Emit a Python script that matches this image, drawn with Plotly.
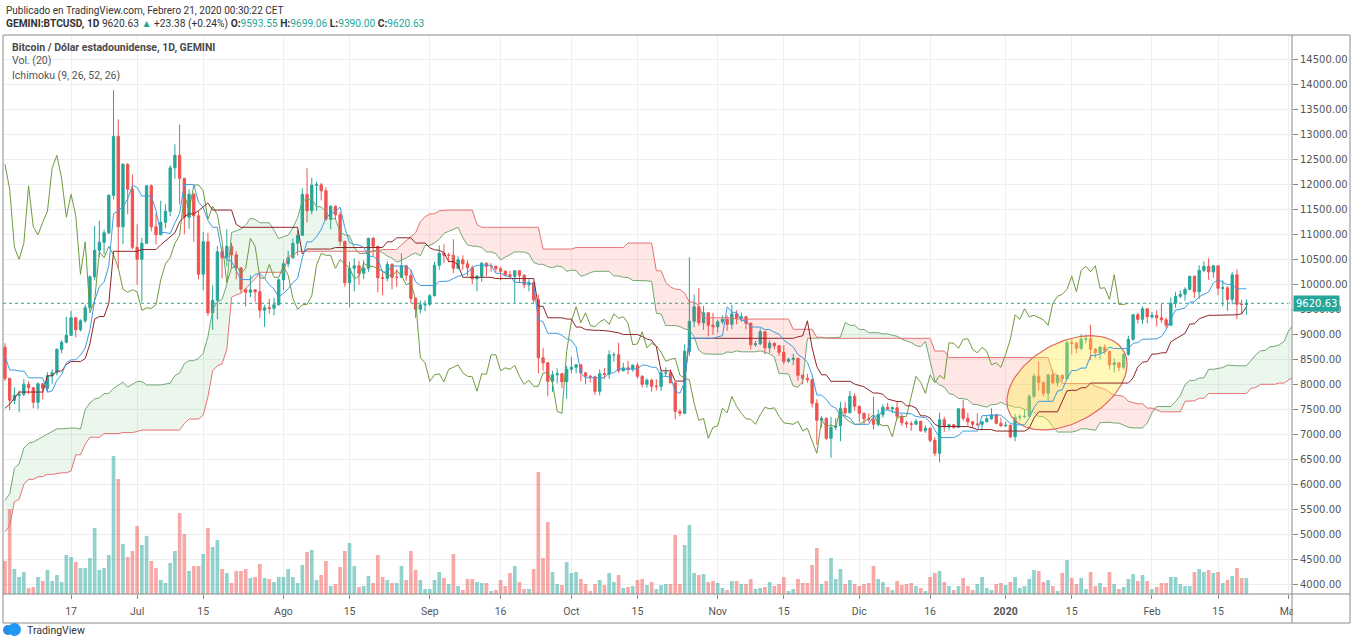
import numpy as np
import pandas as pd
import plotly.graph_objects as go

# ---------------- data (daily candles, GEMINI BTCUSD) ----------------
start_date = "2019-06-03"
open_ = [
    8740,8120,7680,7780,7800,8000,7930,7640,8010,7920,8170,8230,8700,8840,8980,9330,9090,9270,9530,10150,10680,10840,11030,11780,12960,11150,12400,11900,
    10740,10500,10820,11970,11150,10990,11240,11460,12330,12580,12120,11340,11800,11370,10200,10850,9430,9680,10650,10530,10760,10590,10330,9900,9840,9890,9850,9480,9530,9520,9590,
    10090,10410,10530,10820,10980,11800,11470,11980,11990,11870,11300,11560,11390,10860,10030,10320,10370,10220,10320,10920,10760,10130,10120,10400,10140,10140,10370,10180,9720,9500,9590,
    9600,9770,10380,10620,10580,10580,10320,10490,10410,10330,10110,10160,10420,10360,10360,10310,10260,10190,10160,10270,10180,9990,10030,9690,8530,8430,8060,8190,8210,8050,
    8300,8340,8390,8230,8160,8150,7860,8210,8200,8590,8590,8270,8330,8300,8380,8160,8000,8080,7960,7960,8230,8230,8030,7460,7420,8660,9260,9550,9230,9430,9180,
    9150,9250,9300,9200,9410,9320,9350,9220,8790,8810,9050,8730,8820,8770,8640,8460,8500,8520,8180,8120,8090,7620,7280,7320,6920,7140,7170,7520,7430,7760,
    7560,7420,7310,7300,7200,7390,7540,7510,7530,7360,7230,7210,7200,7260,7070,7120,6880,6620,7290,7150,7190,7140,7510,7320,7250,7200,7200,7250,7310,7390,7220,
    7170,7180,6950,7340,7350,7360,7760,8160,8040,7820,8190,8030,8180,8110,8830,8820,8720,8900,8910,8700,8630,8740,8660,8390,8430,8340,8600,8900,9390,9300,9510,
    9350,9380,9330,9290,9180,9620,9760,9800,9900,10160,9850,10280,10360,10250,10370,9920,9930,9700,10190,9600,9593.55,
]
high = [
    8820,8130,7940,7880,8100,8060,7950,8040,8020,8240,8300,8720,8880,9350,9470,9350,9300,9590,10180,11170,11270,11090,11800,13880,13300,12420,12420,12200,
    11200,10930,11980,12000,11420,11670,11600,12380,12800,13190,12120,11900,11830,11460,11050,11030,9980,10770,10750,11100,10830,10660,10340,9930,10180,9900,10200,9590,9710,9730,10120,
    10490,10670,10920,11080,11920,12320,12130,12050,12030,11940,11580,11580,11450,10870,10450,10520,10470,10480,10930,10950,10770,10240,10460,10420,10300,10620,10390,10290,9730,9680,9680,
    9800,10450,10780,10800,10630,10900,10560,10580,10480,10380,10190,10450,10440,10420,10380,10350,10280,10270,10280,10280,10200,10100,10050,9790,8730,8450,8270,8320,8230,8370,
    8550,8400,8390,8240,8190,8170,8300,8330,8680,8640,8830,8430,8470,8400,8430,8180,8120,8110,8100,8300,8340,8300,8050,7500,8800,10540,9800,9920,9570,9440,9430,
    9290,9380,9380,9590,9480,9440,9370,9240,8870,9120,9070,8880,8840,8780,8780,8530,8610,8520,8200,8210,8120,7700,7360,7340,7350,7320,7650,7640,7870,7820,
    7570,7430,7420,7750,7490,7600,7630,7560,7640,7410,7270,7260,7310,7270,7180,7140,6940,7430,7350,7210,7200,7520,7690,7430,7270,7420,7270,7360,7520,7410,7330,
    7250,7200,7410,7400,7500,7800,8210,8460,8050,8200,8290,8190,8190,8880,8900,8850,9000,8990,9190,8730,8770,8800,8670,8520,8440,8620,8970,9400,9430,9560,9520,
    9450,9480,9610,9340,9740,9850,9880,9940,10170,10180,10380,10460,10520,10390,10380,10080,9960,10250,10300,9690,9699.06,
]
low = [
    8070,7480,7600,7440,7760,7800,7520,7510,7700,7860,8010,8180,8620,8820,8980,8940,9060,9230,9530,10080,10550,10600,11000,11700,10300,10800,11400,10700,
    9990,9650,10810,11060,10800,10980,11120,11360,12110,11600,11000,11110,10850,10100,9880,9370,9090,9300,10120,10360,10320,10100,9830,9560,9740,9650,9330,9150,9410,9380,9580,
    9880,10340,10510,10580,10980,11240,11400,11470,11680,11270,11100,11290,10770,9950,9540,9860,9990,10100,10250,10570,9840,9780,10060,9900,9950,10130,10070,9620,9330,9420,9460,
    9570,9760,10290,10420,10440,10220,10300,10290,10160,10000,9860,10050,10160,10250,10240,10080,10160,10120,9630,10040,9920,9860,9620,8220,8270,7760,7850,8020,7920,7710,
    8220,8220,8060,8000,8040,7790,7780,8110,8110,8450,8230,8260,8200,8250,8110,7940,7930,7850,7880,7870,8150,8020,7300,7360,7400,8560,9140,9170,9090,8960,8990,
    9030,9200,9070,9100,9200,9250,9100,8700,8750,8780,8600,8630,8700,8570,8400,8430,8380,8070,8000,8030,7540,6790,7140,6880,6530,7080,6860,7370,7420,7470,
    7240,7190,7240,7100,7160,7330,7490,7420,7300,7170,7130,7070,7200,7050,7030,6840,6560,6440,7050,7080,7110,7130,7270,7170,7130,7160,7080,7240,7290,7200,7150,
    7150,6920,6860,7270,7320,7350,7720,7880,7760,7650,8000,7960,8040,8100,8600,8620,8680,8820,8480,8520,8500,8600,8300,8240,8260,8300,8570,8870,9220,9210,9220,
    9310,9160,9230,9120,9170,9530,9720,9670,9880,9730,9710,10240,10090,10130,9780,9560,9470,9600,9300,9400,9390.00,
]
close = [
    8120,7680,7780,7800,8000,7930,7640,8010,7920,8170,8230,8700,8840,8980,9330,9090,9270,9530,10150,10680,10840,11030,11780,12960,11150,12400,11900,10740,
    10500,10820,11970,11150,10990,11240,11460,12330,12580,12120,11340,11800,11370,10200,10850,9430,9680,10650,10530,10760,10590,10330,9900,9840,9890,9850,9480,9530,9520,9590,10090,
    10410,10530,10820,10980,11800,11470,11980,11990,11870,11300,11560,11390,10860,10030,10320,10370,10220,10320,10920,10760,10130,10120,10400,10140,10140,10370,10180,9720,9500,9590,9600,
    9770,10380,10620,10580,10580,10320,10490,10410,10330,10110,10160,10420,10360,10360,10310,10260,10190,10160,10270,10180,9990,10030,9690,8530,8430,8060,8190,8210,8050,8300,
    8340,8390,8230,8160,8150,7860,8210,8200,8590,8590,8270,8330,8300,8380,8160,8000,8080,7960,7960,8230,8230,8030,7460,7420,8660,9260,9550,9230,9430,9180,9150,
    9250,9300,9200,9410,9320,9350,9220,8790,8810,9050,8730,8820,8770,8640,8460,8500,8520,8180,8120,8090,7620,7280,7320,6920,7140,7170,7520,7430,7760,7560,
    7420,7310,7300,7200,7390,7540,7510,7530,7360,7230,7210,7200,7260,7070,7120,6880,6620,7290,7150,7190,7140,7510,7320,7250,7200,7200,7250,7310,7390,7220,7170,
    7180,6950,7340,7350,7360,7760,8160,8040,7820,8190,8030,8180,8110,8830,8820,8720,8900,8910,8700,8630,8740,8660,8390,8430,8340,8600,8900,9390,9300,9510,9350,
    9380,9330,9290,9180,9620,9760,9800,9900,10160,9850,10280,10360,10250,10370,9920,9930,9700,10190,9600,9597.25,9620.63,
]
# daily volume (BTC), relative heights
volume = [
    3300,8500,2500,1700,2200,600,700,1700,1300,2400, 1300,1900,1200,3900,3700,3200,2600,2600,3600,6600,
    2400,2600,3900,13800,11500,5000,3700,4300,6800,4900, 5800,3300,2600,1400,1100,3100,4300,8100,6000,2300,
    2800,2800,4000,6600,4700,5400,2500,2100,1100,2300, 2300,2500,1600,1700,3000,1600,1500,1200,1700,1700,
    2500,1700,1100,2900,4200,4400,1400,1900,3300,800, 1000,2700,4300,5100,2800,700,800,1800,1100,3900,
    1700,1400,1100,1100,2800,1400,4300,2400,1400,500, 500,1400,2200,1600,1000,4000,800,400,1500,1500,
    1200,1100,1100,300,400,1400,800,2100,2800,1200, 500,500,2500,12200,3600,7200,2200,1000,900,3200,
    2100,2200,1500,1000,300,1000,1400,900,2100,1200, 1900,600,700,800,1400,1500,900,1200,500,900,
    1000,1000,5900,1000,4900,6900,2100,1900,2000,1200, 1300,1100,600,400,1300,1300,1000,1000,1500,500,
    600,700,1200,800,1000,1700,300,500,1500,1100, 1100,2900,4600,1000,1300,3600,1500,2500,1000,1400,
    1000,800,1000,1100,2800,1500,1200,700,400,1300, 900,1000,1100,800,600,300,1700,2100,2300,1200,
    800,400,800,1600,800,400,1000,1700,600,400, 1000,1100,900,1200,1700,600,800,1500,2400,2300,
    1200,1400,800,300,2100,3400,1600,1000,1600,500, 2200,800,1100,700,2200,1000,500,700,1500,2000,
    1300,1900,1300,500,700,1100,1100,1700,1700,1000, 800,800,2200,2500,2200,2400,2100,2200,1100,1400,
    1800,2600,1600,1600,
]

# earlier daily history (2019-03-14 .. 2019-06-02) feeding the Ichimoku windows
hist_start = "2019-03-14"
hist_high = [
    3900,3920,4050,4010,4030,4030,4060,4070,4010,4020,4010,3995,3950,4050,4050,4120,4130,4120,
    4160,4950,5340,5080,5060,5230,5260,5350,5280,5470,5330,5100,5120,5180,5200,5240,5280,5320,5350,5350,
    5340,5460,5620,5640,5520,5280,5270,5280,5240,5340,
    5400,5530,5880,5950,5830,5780,5940,6000,6200,6450,7400,7500,8100,8300,8260,8380,7950,7450,8260,8200,
    8080,8020,7960,8150,8130,8700,8940,8820,8720,9090,8590,
    8620,8800,
]
hist_low = [
    3830,3850,3900,3950,3950,3970,4000,3960,3980,3990,3980,3900,3920,3930,4020,4020,4060,4100,
    4080,4150,4830,4800,4900,4970,5050,5170,5140,5160,4980,4940,5050,5040,4980,5020,5200,5230,5240,5280,
    5200,5250,5370,5400,5120,5080,5180,5200,5140,5180,
    5320,5370,5470,5550,5690,5600,5700,5750,5950,6120,6350,6800,6900,7640,7900,7650,6600,7250,7250,7580,
    7800,7580,7480,7800,7970,8040,8620,8560,8360,8460,8100,
    8450,8540,
]
hist_close = [
    3860,3900,4010,3980,3985,4020,4050,3990,4000,4010,3995,3920,3940,4040,4030,4100,4110,4110,
    4150,4890,4960,4910,5040,5060,5190,5280,5180,5320,5030,5070,5080,5160,5030,5220,5240,5280,5290,5330,
    5280,5380,5500,5430,5200,5220,5230,5240,5200,5330,
    5380,5480,5780,5830,5760,5710,5750,5950,6160,6370,7250,6990,7810,7990,8200,7870,7350,7260,8190,7990,
    7950,7630,7880,7990,8070,8670,8800,8710,8660,8280,8550,
    8560,8740,
]

ichimoku_params = (9, 26, 52, 26)
last_price = 9620.63

tick_dates = ["2019-06-17", "2019-07-01", "2019-07-15", "2019-08-01", "2019-08-15", "2019-09-01",
              "2019-09-16", "2019-10-01", "2019-10-15", "2019-11-01", "2019-11-15", "2019-12-01",
              "2019-12-16", "2020-01-01", "2020-01-15", "2020-02-01", "2020-02-15", "2020-03-01"]
tick_text = ["17", "Jul", "15", "Ago", "15", "Sep", "16", "Oct", "15", "Nov", "15", "Dic",
             "16", "<b>2020</b>", "15", "Feb", "15", "Mar"]
price_ticks = list(range(4000, 15000, 500))

# ---------------- layout constants ----------------
W, H = 1353, 641
ML, MR, MT, MB = 3, 61, 35, 47
PW, PH = W - ML - MR, H - MT - MB
X0, X1 = pd.Timestamp("2019-06-02 14:00"), pd.Timestamp("2020-03-01 16:00")
Y0, Y1 = 3806, 14986
VOL_MAX = 55900

TEAL, RED = "#26a69a", "#ef5350"
GRID = "#eceef2"

def px_x(p):
    return (p - ML) / PW

def px_y(p):
    return (H - MB - p) / PH

# ---------------- Ichimoku ----------------
dates = pd.date_range(start_date, periods=len(close), freq="D")
n_hist = len(hist_close)
aH = pd.Series(hist_high + high, dtype=float)
aL = pd.Series(hist_low + low, dtype=float)
aC = pd.Series(hist_close + close, dtype=float)
all_dates = pd.date_range(hist_start, periods=len(aC), freq="D")
assert all_dates[n_hist] == dates[0]

tn, kn, sn, disp = ichimoku_params
def donchian(n):
    return (aH.rolling(n).max() + aL.rolling(n).min()) / 2

tenkan = donchian(tn)
kijun = donchian(kn)
spanA = (tenkan + kijun) / 2
spanB = donchian(sn)
shift = pd.Timedelta(days=disp - 1)

i0 = n_hist - (disp - 1)
lead_x = all_dates[i0:] + shift
lead_A = spanA.values[i0:]
lead_B = spanB.values[i0:]
upper = np.maximum(lead_A, lead_B)

lag_idx = n_hist + (disp - 1)
lag_x = all_dates[lag_idx:] - shift
lag_y = aC.values[lag_idx:]

# ---------------- figure ----------------
fig = go.Figure()

vol_colors = ["rgba(38,166,154,0.5)" if c >= o else "rgba(239,83,80,0.5)" for o, c in zip(open_, close)]
fig.add_trace(go.Bar(x=dates, y=volume, marker=dict(color=vol_colors, line=dict(width=0)),
                     yaxis="y", hoverinfo="skip"))

# cloud
fig.add_trace(go.Scatter(x=lead_x, y=lead_B, mode="lines", line=dict(width=0), yaxis="y2", hoverinfo="skip"))
fig.add_trace(go.Scatter(x=lead_x, y=upper, mode="lines", line=dict(width=0), fill="tonexty",
                         fillcolor="rgba(76,175,80,0.11)", yaxis="y2", hoverinfo="skip"))
fig.add_trace(go.Scatter(x=lead_x, y=lead_A, mode="lines", line=dict(width=0), yaxis="y2", hoverinfo="skip"))
fig.add_trace(go.Scatter(x=lead_x, y=upper, mode="lines", line=dict(width=0), fill="tonexty",
                         fillcolor="rgba(244,67,54,0.13)", yaxis="y2", hoverinfo="skip"))
fig.add_trace(go.Scatter(x=lead_x, y=lead_A, mode="lines", line=dict(color="#72a872", width=1), yaxis="y2"))
fig.add_trace(go.Scatter(x=lead_x, y=lead_B, mode="lines", line=dict(color="#e57373", width=1), yaxis="y2"))

# highlighted ellipse (drawing)
ell_center_date = pd.Timestamp("2020-01-14")
ell_center_price = 8030
ell_a_px, ell_b_px, ell_angle = 65, 40, 29
px_per_day = PW / ((X1 - X0).total_seconds() / 86400)
px_per_usd = PH / (Y1 - Y0)
t = np.linspace(0, 2 * np.pi, 121)
th = np.deg2rad(ell_angle)
ex = ell_a_px * np.cos(t) * np.cos(th) - ell_b_px * np.sin(t) * np.sin(th)
ey = ell_a_px * np.cos(t) * np.sin(th) + ell_b_px * np.sin(t) * np.cos(th)
ell_x = [ell_center_date + pd.Timedelta(days=float(v / px_per_day)) for v in ex]
ell_y = ell_center_price + ey / px_per_usd
fig.add_trace(go.Scatter(x=ell_x, y=ell_y, mode="lines", fill="toself",
                         fillcolor="rgba(255,236,70,0.38)", line=dict(color="#e0675f", width=1.2),
                         yaxis="y2", hoverinfo="skip"))

# lagging, base, conversion lines
fig.add_trace(go.Scatter(x=lag_x, y=lag_y, mode="lines", line=dict(color="#6f9a3e", width=1), yaxis="y2"))
fig.add_trace(go.Scatter(x=dates, y=kijun.values[n_hist:], mode="lines", line=dict(color="#8e2525", width=1), yaxis="y2"))
fig.add_trace(go.Scatter(x=dates, y=tenkan.values[n_hist:], mode="lines", line=dict(color="#3d9be0", width=1), yaxis="y2"))

fig.add_trace(go.Candlestick(
    x=dates, open=open_, high=high, low=low, close=close, yaxis="y2",
    increasing=dict(line=dict(color=TEAL, width=1), fillcolor=TEAL),
    decreasing=dict(line=dict(color=RED, width=1), fillcolor=RED),
    whiskerwidth=0, hoverinfo="skip"))

axis_font = dict(family="DejaVu Sans", size=10, color="#555555")
fig.update_layout(
    width=W, height=H, margin=dict(l=ML, r=MR, t=MT, b=MB),
    paper_bgcolor="white", plot_bgcolor="white", showlegend=False,
    bargap=0.22, boxgap=0.3, hovermode=False,
    xaxis=dict(type="date", range=[X0, X1], tickvals=tick_dates, ticktext=tick_text,
               showgrid=True, gridcolor=GRID, gridwidth=1, ticks="outside", ticklen=4,
               tickcolor="#888888", tickfont=dict(family="Roboto", size=10.5, color="#555555"),
               rangeslider=dict(visible=False), showline=False, zeroline=False, anchor="y",
               ticklabelstandoff=3),
    yaxis=dict(range=[0, VOL_MAX], visible=False, showgrid=False, zeroline=False, anchor="x"),
    yaxis2=dict(overlaying="y", side="right", anchor="x", range=[Y0, Y1], tickvals=price_ticks,
                tickformat=".2f", showgrid=True, gridcolor=GRID, gridwidth=1, ticks="outside",
                ticklen=5, tickcolor="#888888", tickfont=axis_font, zeroline=False, showline=False),
)

FRAME = "#8a8a8a"
shapes = [
    # last price dotted line
    dict(type="line", xref="paper", yref="y2", x0=0, x1=1, y0=last_price, y1=last_price,
         line=dict(color=TEAL, width=1, dash="dot"), layer="below"),
    # cover clipped part of last date label
    dict(type="rect", xref="paper", yref="paper", x0=1.0008, x1=px_x(1349.5), y0=px_y(622), y1=px_y(595),
         fillcolor="white", line=dict(width=0), layer="above"),
    # frame
    dict(type="line", xref="paper", yref="paper", x0=0, x1=px_x(1350), y0=1, y1=1, line=dict(color=FRAME, width=1)),
    dict(type="line", xref="paper", yref="paper", x0=0, x1=px_x(1350), y0=px_y(623), y1=px_y(623), line=dict(color=FRAME, width=1)),
    dict(type="line", xref="paper", yref="paper", x0=0, x1=px_x(1350), y0=0, y1=0, line=dict(color=FRAME, width=1)),
    dict(type="line", xref="paper", yref="paper", x0=0, x1=0, y0=px_y(623), y1=1, line=dict(color=FRAME, width=1)),
    dict(type="line", xref="paper", yref="paper", x0=1, x1=1, y0=px_y(623), y1=1, line=dict(color=FRAME, width=1)),
    dict(type="line", xref="paper", yref="paper", x0=px_x(1350), x1=px_x(1350), y0=px_y(623), y1=1, line=dict(color=FRAME, width=1)),
    # TradingView logo (cloud)
    dict(type="circle", xref="paper", yref="paper", x0=px_x(3), x1=px_x(13), y0=px_y(635), y1=px_y(625),
         fillcolor="#2a8be0", line=dict(width=0)),
    dict(type="circle", xref="paper", yref="paper", x0=px_x(8), x1=px_x(21), y0=px_y(636), y1=px_y(623),
         fillcolor="#2196f3", line=dict(width=0)),
]
fig.update_layout(shapes=shapes)

hdr_font = "Roboto"
ann = [
    dict(x=px_x(4), y=px_y(10), text="Publicado en TradingView.com, Febrero 21, 2020 00:30:22 CET",
         font=dict(family=hdr_font, size=10, color="#333333")),
    dict(x=px_x(4), y=px_y(24),
         text=("<b>GEMINI:BTCUSD, 1D</b> 9620.63 <span style='color:#26a69a'>▲</span> +23.38 (+0.24%) "
               "<b>O:</b><span style='color:#26a69a'>9593.55</span> <b>H:</b><span style='color:#26a69a'>9699.06</span> "
               "<b>L:</b><span style='color:#26a69a'>9390.00</span> <b>C:</b><span style='color:#26a69a'>9620.63</span>"),
         font=dict(family=hdr_font, size=10.2, color="#333333")),
    dict(x=px_x(10), y=px_y(47), text="<b>Bitcoin / Dólar estadounidense, 1D, GEMINI</b>",
         font=dict(family=hdr_font, size=10.5, color="#4a4a4a")),
    dict(x=px_x(10), y=px_y(61), text="Vol. (20)", font=dict(family=hdr_font, size=10.5, color="#555555")),
    dict(x=px_x(10), y=px_y(75), text="Ichimoku (9, 26, 52, 26)", font=dict(family=hdr_font, size=10.5, color="#555555")),
    dict(x=px_x(25), y=px_y(630), text="TradingView", font=dict(family=hdr_font, size=10.5, color="#333333")),
]
for a in ann:
    a.update(xref="paper", yref="paper", xanchor="left", yanchor="middle", showarrow=False)
ann.append(dict(x=1, xref="paper", y=last_price, yref="y2", xanchor="left", yanchor="middle",
                text="9620.63", showarrow=False, bgcolor=TEAL, borderpad=2, xshift=1,
                font=dict(family="DejaVu Sans", size=10, color="white")))
fig.update_layout(annotations=ann)

fig.write_html("out.html", config={"displayModeBar": False},
               post_script="document.body.style.margin='0';document.body.style.overflow='hidden';")
